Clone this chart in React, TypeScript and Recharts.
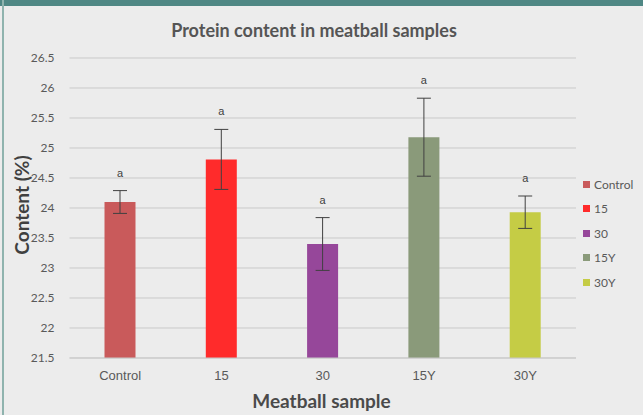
import {
  BarChart,
  Bar,
  XAxis,
  YAxis,
  CartesianGrid,
  ErrorBar,
  LabelList,
  Cell,
} from "recharts";

const samples = ["Control", "15", "30", "15Y", "30Y"];
const protein = [24.1, 24.81, 23.4, 25.18, 23.93];
const stdDev = [0.19, 0.5, 0.44, 0.65, 0.27];
const groupLetters = ["a", "a", "a", "a", "a"];
const barColors = ["#c95a5b", "#ff2b2b", "#96479a", "#8a9a7a", "#c5cc45"];
const yTicks = [21.5, 22, 22.5, 23, 23.5, 24, 24.5, 25, 25.5, 26, 26.5];

const data = samples.map((name, i) => ({
  name,
  protein: protein[i],
  sd: stdDev[i],
  letter: groupLetters[i],
}));

const MIN_Y = 21.5;

// letter sits a bit above the top of the error bar
const LetterLabel = (props: any) => {
  const { x, y, width, height, index } = props;
  const d = data[index];
  const pxPerUnit = height / (d.protein - MIN_Y);
  const top = y - d.sd * pxPerUnit;
  return (
    <text
      x={x + width / 2}
      y={top - 14}
      textAnchor="middle"
      fontSize={11}
      fontFamily="Liberation Sans, Arial"
      fill="#404040"
    >
      {d.letter}
    </text>
  );
};

const SideLegend = () => (
  <div
    style={{
      position: "absolute",
      left: 583,
      top: 172,
      fontFamily: "Lato, sans-serif",
      fontSize: 12,
      color: "#595959",
    }}
  >
    {samples.map((s, i) => (
      <div
        key={s}
        style={{ display: "flex", alignItems: "center", height: 24.5 }}
      >
        <span
          style={{
            width: 7,
            height: 7,
            background: barColors[i],
            marginRight: 4,
            display: "inline-block",
          }}
        />
        {s}
      </div>
    ))}
  </div>
);

const App = () => {
  return (
    <div
      style={{
        position: "absolute",
        left: 0,
        top: 0,
        width: 643,
        height: 415,
        background: "#ececec",
        overflow: "hidden",
      }}
    >
      <div
        style={{
          position: "absolute",
          left: 0,
          top: 0,
          width: 643,
          height: 6,
          background: "#4f8784",
        }}
      />
      <div
        style={{
          position: "absolute",
          left: 2,
          top: 0,
          width: 2,
          height: 415,
          background: "#8fb3ae",
        }}
      />
      <div
        style={{
          position: "absolute",
          top: 19,
          left: 0,
          width: 628,
          textAlign: "center",
          fontFamily: "Lato, sans-serif",
          fontWeight: 700,
          fontSize: 18,
          color: "#555555",
        }}
      >
        Protein content in meatball samples
      </div>
      <BarChart
        width={643}
        height={415}
        data={data}
        margin={{ top: 58, right: 67, left: 0, bottom: 27 }}
        barSize={31}
        style={{ position: "absolute", left: 0, top: 0 }}
      >
        <CartesianGrid vertical={false} stroke="#c9c9c9" />
        <XAxis
          dataKey="name"
          height={30}
          tickLine={false}
          tickSize={0}
          tickMargin={13}
          axisLine={{ stroke: "#c9c9c9" }}
          tick={{ fill: "#595959", fontSize: 13, fontFamily: "Liberation Sans, Arial" }}
        />
        <YAxis
          width={69.5}
          domain={[21.5, 26.5]}
          ticks={yTicks}
          interval={0}
          axisLine={false}
          tickLine={false}
          tickSize={0}
          tickMargin={15}
          tick={{ fill: "#595959", fontSize: 12, fontFamily: "Lato, sans-serif" }}
        />
        <Bar dataKey="protein" isAnimationActive={false}>
          {data.map((d, i) => (
            <Cell key={d.name} fill={barColors[i]} />
          ))}
          <ErrorBar dataKey="sd" width={7} stroke="#404040" strokeWidth={1} />
          <LabelList dataKey="letter" content={LetterLabel} />
        </Bar>
      </BarChart>
      <SideLegend />
      <div
        style={{
          position: "absolute",
          top: 389,
          left: 0,
          width: 643,
          textAlign: "center",
          fontFamily: "Lato, sans-serif",
          fontWeight: 700,
          fontSize: 19,
          color: "#4a4a4a",
        }}
      >
        Meatball sample
      </div>
      <div
        style={{
          position: "absolute",
          left: 21,
          top: 205,
          transform: "translate(-50%, -50%) rotate(-90deg)",
          whiteSpace: "nowrap",
          fontFamily: "Lato, sans-serif",
          fontWeight: 700,
          fontSize: 19,
          color: "#404040",
        }}
      >
        Content (%)
      </div>
    </div>
  );
};

export default App;
